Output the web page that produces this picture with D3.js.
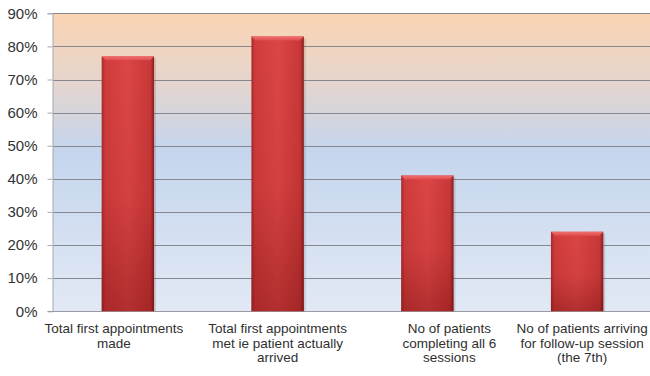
<!DOCTYPE html>
<html>
<head>
<meta charset="utf-8">
<script src="https://cdn.jsdelivr.net/npm/d3@7"></script>
<style>
  html, body { margin: 0; padding: 0; background: #ffffff; }
  svg { display: block; }
  text { font-family: "Liberation Sans", Arial, sans-serif; }
</style>
</head>
<body>
<svg id="chart" width="650" height="376"></svg>
<script>
// Share of patients reaching each stage of the programme
const categories = [
  ["Total first appointments", "made"],
  ["Total first appointments", "met ie patient actually", "arrived"],
  ["No of patients", "completing all 6", "sessions"],
  ["No of patients arriving", "for follow-up session", "(the 7th)"]
];
const values = [77, 83, 41, 24];
const yTicks = [0, 10, 20, 30, 40, 50, 60, 70, 80, 90];

// layout
const W = 650, H = 376;
const margin = { top: 13.3, right: -2, bottom: 64.8, left: 53 };
const labelNudge = [-14, 0, 22, 5];   // horizontal shift of wrapped category labels

const svg = d3.select("#chart");
const defs = svg.append("defs");

const x = d3.scaleBand()
  .domain(d3.range(categories.length))
  .range([margin.left, W - margin.right])
  .paddingInner(0.65)
  .paddingOuter(0.325);

const y = d3.scaleLinear()
  .domain([0, 90])
  .range([H - margin.bottom, margin.top]);

// plot-area background: peach at the top fading to blue
const bg = defs.append("linearGradient")
  .attr("id", "bgGrad").attr("x1", 0).attr("y1", 0).attr("x2", 0).attr("y2", 1);
bg.append("stop").attr("offset", "0%").attr("stop-color", "#fbd4b3");
bg.append("stop").attr("offset", "22%").attr("stop-color", "#e6d5cc");
bg.append("stop").attr("offset", "46%").attr("stop-color", "#c4d5ed");
bg.append("stop").attr("offset", "100%").attr("stop-color", "#e2e9f5");

svg.append("rect")
  .attr("x", margin.left)
  .attr("y", y(90))
  .attr("width", W - margin.left)
  .attr("height", y(0) - y(90))
  .attr("fill", "url(#bgGrad)");

// gridlines
svg.append("g")
  .selectAll("line")
  .data(yTicks.filter(d => d > 0))
  .join("line")
  .attr("x1", margin.left)
  .attr("x2", W)
  .attr("y1", d => Math.round(y(d)) + 0.5)
  .attr("y2", d => Math.round(y(d)) + 0.5)
  .attr("stroke", "#868890")
  .attr("stroke-width", 1);

// y axis
const yAxis = d3.axisLeft(y)
  .tickValues(yTicks)
  .tickFormat(d => d + "%")
  .tickSize(5)
  .tickPadding(10);

const gy = svg.append("g")
  .attr("transform", `translate(${margin.left - 0.5},0)`)
  .call(yAxis);
gy.select(".domain").attr("stroke", "#a8a8b0");
gy.selectAll(".tick line").attr("stroke", "#a8a8b0");
gy.selectAll(".tick text")
  .attr("fill", "#333333")
  .style("font-size", "15px");

// x baseline
svg.append("line")
  .attr("x1", margin.left - 5).attr("x2", W)
  .attr("y1", Math.round(y(0)) + 0.5).attr("y2", Math.round(y(0)) + 0.5)
  .attr("stroke", "#9a9aa2");

// bar shading
const barH = defs.append("linearGradient")
  .attr("id", "barH").attr("x1", 0).attr("y1", 0).attr("x2", 1).attr("y2", 0);
barH.append("stop").attr("offset", "0%").attr("stop-color", "#a82a2a");
barH.append("stop").attr("offset", "7%").attr("stop-color", "#cf3c3c");
barH.append("stop").attr("offset", "50%").attr("stop-color", "#dc4545");
barH.append("stop").attr("offset", "93%").attr("stop-color", "#c83838");
barH.append("stop").attr("offset", "100%").attr("stop-color", "#8a1e1e");

const barV = defs.append("linearGradient")
  .attr("id", "barV").attr("x1", 0).attr("y1", 0).attr("x2", 0).attr("y2", 1);
barV.append("stop").attr("offset", "0%").attr("stop-color", "#5a0000").attr("stop-opacity", 0);
barV.append("stop").attr("offset", "55%").attr("stop-color", "#5a0000").attr("stop-opacity", 0.06);
barV.append("stop").attr("offset", "100%").attr("stop-color", "#5a0000").attr("stop-opacity", 0.32);

const bevel = defs.append("linearGradient")
  .attr("id", "bevel").attr("x1", 0).attr("y1", 0).attr("x2", 0).attr("y2", 1);
bevel.append("stop").attr("offset", "0%").attr("stop-color", "#f07070");
bevel.append("stop").attr("offset", "100%").attr("stop-color", "#e04c4c");

const bars = svg.append("g")
  .selectAll("g")
  .data(values)
  .join("g");

// soft shadow on the right side
bars.append("rect")
  .attr("x", (d, i) => x(i) + 2)
  .attr("y", d => y(d) + 2)
  .attr("width", x.bandwidth())
  .attr("height", d => y(0) - y(d) - 2)
  .attr("fill", "#6a5060")
  .attr("opacity", 0.18);

bars.append("rect")
  .attr("x", (d, i) => x(i))
  .attr("y", d => y(d))
  .attr("width", x.bandwidth())
  .attr("height", d => y(0) - y(d))
  .attr("fill", "url(#barH)");

bars.append("rect")
  .attr("x", (d, i) => x(i))
  .attr("y", d => y(d))
  .attr("width", x.bandwidth())
  .attr("height", d => y(0) - y(d))
  .attr("fill", "url(#barV)");

// bevelled top edge
bars.append("path")
  .attr("d", (d, i) => {
    const x0 = x(i), x1 = x(i) + x.bandwidth(), t = y(d), b = 4;
    return `M${x0},${t}L${x1},${t}L${x1 - b},${t + b}L${x0 + b},${t + b}Z`;
  })
  .attr("fill", "url(#bevel)");

// category labels
const labels = svg.append("g")
  .selectAll("text")
  .data(categories)
  .join("text")
  .attr("text-anchor", "middle")
  .attr("fill", "#2f2f2f")
  .style("font-size", "13.5px")
  .attr("transform", (d, i) => `translate(${x(i) + x.bandwidth() / 2 + labelNudge[i]},${y(0) + 22})`);

labels.selectAll("tspan")
  .data(d => d)
  .join("tspan")
  .attr("x", 0)
  .attr("dy", (d, j) => j === 0 ? 0 : 14.5)
  .text(d => d);
</script>
</body>
</html>
